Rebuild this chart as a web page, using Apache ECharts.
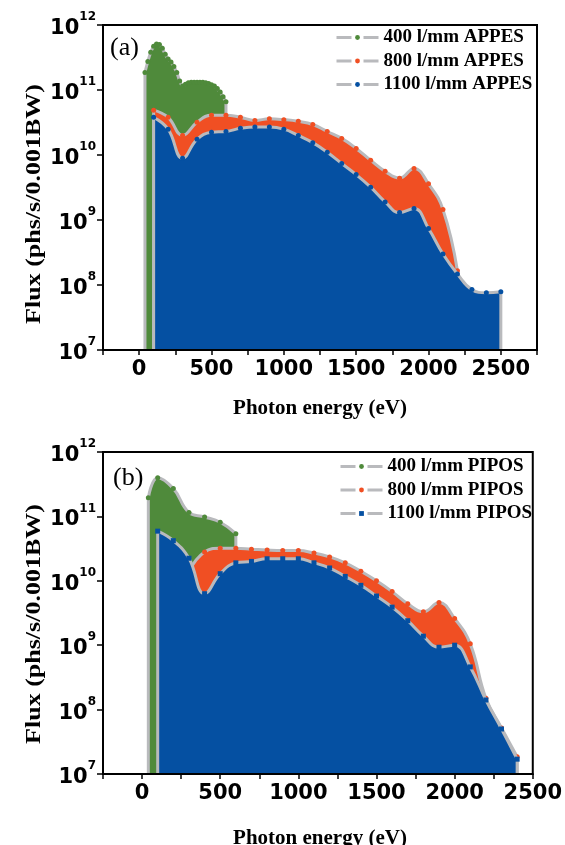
<!DOCTYPE html>
<html><head><meta charset="utf-8">
<script src="https://cdn.jsdelivr.net/npm/echarts@6/dist/echarts.min.js"></script>
<style>html,body{margin:0;padding:0;background:#fff}#c{width:565px;height:845px}</style>
</head><body><div id="c"></div>
<script>
// ---- Panel (a): APPES ----
const energyA400 = [40,60,80,100,120,140,160,180,200,220,240,260,280,300,320,340,360,380,400,420,440,460,480,500,520,540,560,580,600];
const fluxA400 = [1.86e11,2.75e11,3.8e11,4.7e11,5.1e11,5.0e11,4.4e11,3.55e11,3.0e11,2.7e11,2.3e11,1.86e11,1.38e11,1.15e11,1.23e11,1.29e11,1.32e11,1.32e11,1.32e11,1.32e11,1.32e11,1.29e11,1.26e11,1.2e11,1.15e11,1.05e11,9.3e10,7.9e10,6.6e10];
const energyA800 = [100,200,300,400,500,600,700,800,900,1000,1100,1200,1300,1400,1500,1600,1700,1800,1900,2000,2100,2200];
const fluxA800 = [4.9e10,3.8e10,2.0e10,3.2e10,4.1e10,4.1e10,3.8e10,3.4e10,3.6e10,3.5e10,3.3e10,2.95e10,2.3e10,1.8e10,1.26e10,8.3e9,5.6e9,4.4e9,6.2e9,3.6e9,1.45e9,1.66e8];
const energyA1100 = [100,200,300,400,500,600,700,800,900,1000,1100,1200,1300,1400,1500,1600,1700,1800,1900,2000,2100,2200,2300,2400,2500];
const fluxA1100 = [3.8e10,2.5e10,8.9e9,1.74e10,2.24e10,2.3e10,2.57e10,2.7e10,2.7e10,2.5e10,2.0e10,1.55e10,1.1e10,7.4e9,5.0e9,3.2e9,1.9e9,1.3e9,1.5e9,7.4e8,3.0e8,1.48e8,8.5e7,7.6e7,7.9e7];
// ---- Panel (b): PIPOS ----
const energyB400 = [40,100,200,300,400,500,600];
const fluxB400 = [1.95e11,4.0e11,2.7e11,1.15e11,9.8e10,8.1e10,5.4e10];
const energyB800 = [300,400,500,600,700,800,900,1000,1100,1200,1300,1400,1500,1600,1700,1800,1900,2000,2100,2200,2300,2400];
const fluxB800 = [1.41e10,2.8e10,3.2e10,3.2e10,3.1e10,3.0e10,2.95e10,2.95e10,2.7e10,2.35e10,1.9e10,1.41e10,1.0e10,6.8e9,4.4e9,3.3e9,4.6e9,2.6e9,1.05e9,1.5e8,5.2e7,1.86e7];
const energyB1100 = [100,200,300,400,500,600,700,800,900,1000,1100,1200,1300,1400,1500,1600,1700,1800,1900,2000,2100,2200,2300,2400];
const fluxB1100 = [5.9e10,4.2e10,2.24e10,6.3e9,1.29e10,1.9e10,2.0e10,2.2e10,2.2e10,2.2e10,1.9e10,1.58e10,1.17e10,8.5e9,5.8e9,3.9e9,2.4e9,1.38e9,9.3e8,1.0e9,4.6e8,1.41e8,5.0e7,1.7e7];

const namesA = ['400 l/mm APPES','800 l/mm APPES','1100 l/mm APPES'];
const namesB = ['400 l/mm PIPOS','800 l/mm PIPOS','1100 l/mm PIPOS'];
const xTicksA = [0,500,1000,1500,2000,2500];
const xTicksB = [0,500,1000,1500,2000,2500];

const GREEN='#4f8a3b', RED='#f04f23', BLUE='#0550a2', GREY='#b9babd';
const YMIN=1e7, YMAX=1e12;
const pairs=(xs,ys)=>xs.map((x,i)=>[x,ys[i]]);

function mainSeries(name, xs, ys, color, idx, z, symbol, smooth){
  return {type:'line', name, xAxisIndex:idx, yAxisIndex:idx, data:pairs(xs,ys), smooth, z,
    symbol, symbolSize:5, showSymbol:true, showAllSymbol:true,
    itemStyle:{color}, lineStyle:{color:GREY, width:3},
    areaStyle:{color, opacity:1, origin:'start'},
    emphasis:{disabled:true}, silent:true};
}
function edgeSeries(xs, ys, idx, z, tag){
  const n=xs.length-1;
  const mk=(d,k)=>({type:'line', name:'edge'+tag+k, xAxisIndex:idx, yAxisIndex:idx, data:d, z,
    symbol:'none', lineStyle:{color:GREY, width:3}, silent:true, emphasis:{disabled:true}});
  return [mk([[xs[0],YMIN],[xs[0],ys[0]]],'L'), mk([[xs[n],ys[n]],[xs[n],YMIN]],'R')];
}

function xAxis(idx, max, ticks){
  return {gridIndex:idx, type:'value', min:-250, max, interval:250, z:10,
    axisLine:{show:true, onZero:false, lineStyle:{color:'#000', width:2}},
    axisTick:{show:true, inside:false, length:5, lineStyle:{color:'#000', width:1.5}},
    axisLabel:{formatter:v=>ticks.includes(v)?String(v):'', fontFamily:'DejaVu Sans', fontWeight:'bold', fontSize:21, color:'#000', margin:9},
    splitLine:{show:false}};
}
function yAxis(idx){
  return {gridIndex:idx, type:'log', logBase:10, min:YMIN, max:YMAX, z:10, position:'left',
    axisLine:{show:true, onZero:false, lineStyle:{color:'#000', width:2}},
    axisTick:{show:true, inside:false, length:6, lineStyle:{color:'#000', width:1.5}},
    axisLabel:{margin:7, formatter:v=>'{b|10}{s|'+Math.round(Math.log10(v))+'}',
      rich:{b:{fontFamily:'DejaVu Sans', fontWeight:'bold', fontSize:21, color:'#000', lineHeight:28, verticalAlign:'bottom'},
            s:{fontFamily:'DejaVu Sans', fontWeight:'bold', fontSize:12, color:'#000', lineHeight:12, verticalAlign:'top'}}},
    splitLine:{show:false}, minorTick:{show:false}};
}
function legend(names, left, top){
  return {data:names, orient:'vertical', left, top, padding:0, itemWidth:42, itemHeight:6, itemGap:4.5, selectedMode:false,
    textStyle:{fontFamily:'Liberation Serif', fontWeight:'bold', fontSize:19, color:'#000', lineHeight:19},
    lineStyle:{type:[15,12], width:3}};
}

const series = [];
series.push(mainSeries(namesA[0], energyA400, fluxA400, GREEN, 0, 2, 'circle', 0.3), ...edgeSeries(energyA400, fluxA400, 0, 2, 'a0'));
series.push(mainSeries(namesA[1], energyA800, fluxA800, RED, 0, 3, 'circle', 0.45), ...edgeSeries(energyA800, fluxA800, 0, 3, 'a1'));
series.push(mainSeries(namesA[2], energyA1100, fluxA1100, BLUE, 0, 4, 'circle', 0.45), ...edgeSeries(energyA1100, fluxA1100, 0, 4, 'a2'));
series.push(mainSeries(namesB[0], energyB400, fluxB400, GREEN, 1, 2, 'circle', 0.45), ...edgeSeries(energyB400, fluxB400, 1, 2, 'b0'));
series.push(mainSeries(namesB[1], energyB800, fluxB800, RED, 1, 3, 'circle', 0.45), ...edgeSeries(energyB800, fluxB800, 1, 3, 'b1'));
series.push(mainSeries(namesB[2], energyB1100, fluxB1100, BLUE, 1, 4, 'rect', 0.45), ...edgeSeries(energyB1100, fluxB1100, 1, 4, 'b2'));

const titleFont = 'bold 21px "Liberation Serif"';
const option = {
  animation:false, backgroundColor:'#fff',
  grid:[{left:103, top:25, width:434, height:325, show:true, borderColor:'#000', borderWidth:2, backgroundColor:'transparent'},
        {left:103, top:452, width:434, height:322, show:true, borderColor:'#000', borderWidth:2, backgroundColor:'transparent'}],
  xAxis:[xAxis(0, 2750, xTicksA), xAxis(1, 2500, xTicksB)],
  yAxis:[yAxis(0), yAxis(1)],
  legend:[legend(namesA, 335, 28), legend(namesB, 339, 457)],
  series,
  graphic:[
    {type:'text', x:35, y:204, rotation:Math.PI/2, scaleX:1.3, z:20,
      style:{text:'Flux (phs/s/0.001BW)', font:'bold 20px "Liberation Serif"', fill:'#000', align:'center', verticalAlign:'middle'}},
    {type:'text', x:35, y:624, rotation:Math.PI/2, scaleX:1.3, z:20,
      style:{text:'Flux (phs/s/0.001BW)', font:'bold 20px "Liberation Serif"', fill:'#000', align:'center', verticalAlign:'middle'}},
    {type:'text', x:320, y:409, z:20, style:{text:'Photon energy (eV)', font:titleFont, fill:'#000', align:'center', verticalAlign:'middle'}},
    {type:'text', x:320, y:839, z:20, style:{text:'Photon energy (eV)', font:titleFont, fill:'#000', align:'center', verticalAlign:'middle'}},
    {type:'text', x:110, y:48, z:20, style:{text:'(a)', font:'26px "Liberation Serif"', fill:'#000', align:'left', verticalAlign:'middle'}},
    {type:'text', x:113, y:478, z:20, style:{text:'(b)', font:'26px "Liberation Serif"', fill:'#000', align:'left', verticalAlign:'middle'}}
  ]
};
const chart = echarts.init(document.getElementById('c'), null, {renderer:'canvas'});
chart.setOption(option);
</script></body></html>
